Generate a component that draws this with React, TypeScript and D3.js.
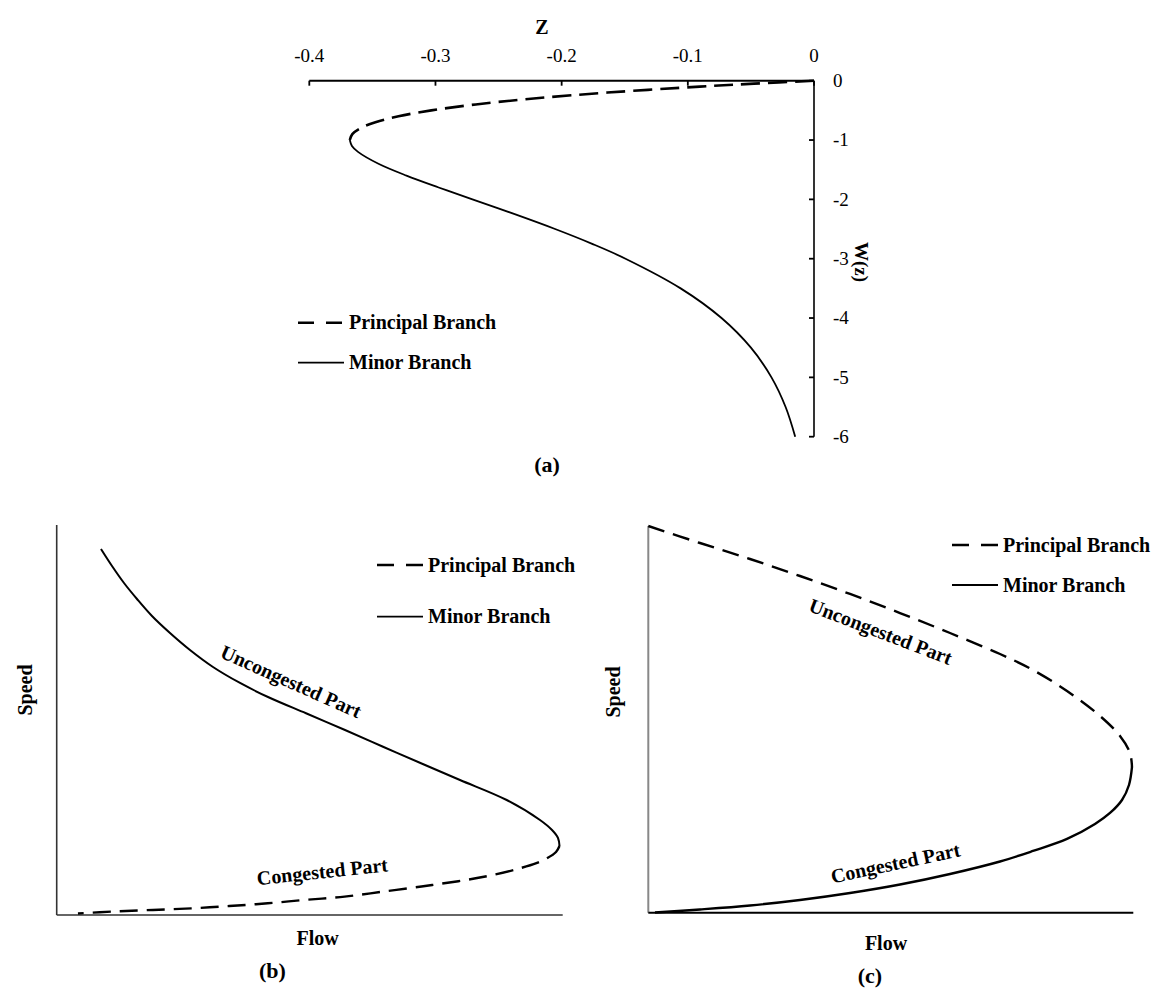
import React from "react";
import * as d3 from "d3";

// ---------- Panel (a): Lambert W ----------
const zTickValues = [-0.4, -0.3, -0.2, -0.1, 0];
const zTickLabels = ["-0.4", "-0.3", "-0.2", "-0.1", "0"];
const wTickValues = [0, -1, -2, -3, -4, -5, -6];
const wTickLabels = ["0", "-1", "-2", "-3", "-4", "-5", "-6"];

const principalW = [0, -0.05, -0.1, -0.2, -0.3, -0.4, -0.5, -0.6, -0.7, -0.8, -0.9, -1.0];
const principalZ = [0, -0.0476, -0.0905, -0.1637, -0.2222, -0.2681, -0.3033, -0.3293, -0.3476, -0.3595, -0.3659, -0.3679];
const minorW = [-1.0, -1.1, -1.2, -1.4, -1.6, -1.8, -2.0, -2.25, -2.5, -2.75, -3.0, -3.5, -4.0, -4.5, -5.0, -5.5, -6.0];
const minorZ = [-0.3679, -0.3662, -0.3614, -0.3452, -0.323, -0.2975, -0.2707, -0.2372, -0.2052, -0.1758, -0.1494, -0.1057, -0.0733, -0.05, -0.0337, -0.0225, -0.0149];

// ---------- Panel (b): flow (x) vs speed (y), normalized ----------
const bMinorFlow = [0.0875, 0.1093, 0.133, 0.1587, 0.1883, 0.2239, 0.2634, 0.3089, 0.3623, 0.4176, 0.4927, 0.5698, 0.6449, 0.72, 0.797, 0.8893, 0.9551, 0.9789, 0.9907, 0.9937];
const bMinorSpeed = [0.9385, 0.8949, 0.8513, 0.8103, 0.7667, 0.7231, 0.6795, 0.6359, 0.5949, 0.559, 0.5172, 0.4744, 0.4315, 0.389, 0.3462, 0.2949, 0.2436, 0.2179, 0.1974, 0.1769];
const bPrincipalFlow = [0.9937, 0.9868, 0.969, 0.948, 0.916, 0.863, 0.81, 0.758, 0.721, 0.645, 0.569, 0.493, 0.417, 0.341, 0.266, 0.19, 0.114, 0.042];
const bPrincipalSpeed = [0.1769, 0.1615, 0.1454, 0.133, 0.12, 0.103, 0.09, 0.08, 0.073, 0.06, 0.047, 0.039, 0.03, 0.023, 0.017, 0.013, 0.009, 0.004];

// ---------- Panel (c) ----------
const cPrincipalFlow = [0, 0.1066, 0.2097, 0.3128, 0.4159, 0.519, 0.6221, 0.7252, 0.7932, 0.8633, 0.9314, 0.9726, 0.9932, 0.9973];
const cPrincipalSpeed = [1, 0.956, 0.9147, 0.8707, 0.8242, 0.775, 0.7233, 0.669, 0.6276, 0.5733, 0.5087, 0.457, 0.413, 0.3768];
const cMinorFlow = [0.9973, 0.9911, 0.9767, 0.952, 0.921, 0.8633, 0.7932, 0.7252, 0.6221, 0.519, 0.4159, 0.3128, 0.2097, 0.1066, 0.0138];
const cMinorSpeed = [0.3768, 0.3302, 0.2915, 0.2579, 0.2295, 0.1908, 0.1596, 0.1324, 0.1001, 0.0729, 0.0509, 0.0328, 0.0186, 0.0083, 0.0005];

const legendLabels = ["Principal Branch", "Minor Branch"];

const FONT = "'Liberation Serif', 'Times New Roman', serif";

type Pt = [number, number];

function mkLine(xs: d3.ScaleLinear<number, number>, ys: d3.ScaleLinear<number, number>) {
  return d3
    .line<Pt>()
    .x((d) => xs(d[0]))
    .y((d) => ys(d[1]))
    .curve(d3.curveCatmullRom.alpha(0.5));
}

const zip = (a: number[], b: number[]): Pt[] => a.map((v, i) => [v, b[i]] as Pt);

function Legend({ x, y, gap, dash }: { x: number; y: number; gap: number; dash: string }) {
  return (
    <g>
      <line x1={x} x2={x + 46} y1={y} y2={y} stroke="#000" strokeWidth={2.6} strokeDasharray={dash} />
      <text x={x + 51} y={y + 6.6} fontFamily={FONT} fontWeight="bold" fontSize={20}>
        {legendLabels[0]}
      </text>
      <line x1={x} x2={x + 46} y1={y + gap} y2={y + gap} stroke="#000" strokeWidth={1.8} />
      <text x={x + 51} y={y + gap + 6.6} fontFamily={FONT} fontWeight="bold" fontSize={20}>
        {legendLabels[1]}
      </text>
    </g>
  );
}

function RotText({ cx, cy, angle, children, size = 20 }: any) {
  return (
    <text
      transform={`translate(${cx},${cy}) rotate(${angle})`}
      y={size * 0.33}
      textAnchor="middle"
      fontFamily={FONT}
      fontWeight="bold"
      fontSize={size}
    >
      {children}
    </text>
  );
}

export default function App() {
  // Panel (a)
  const ax = d3.scaleLinear().domain([-0.4, 0]).range([309.3, 814]);
  const ay = d3.scaleLinear().domain([0, -6]).range([80.7, 436.7]);
  const aLine = mkLine(ax, ay);

  // Panel (b)
  const bx = d3.scaleLinear().domain([0, 1]).range([56.7, 562.7]);
  const by = d3.scaleLinear().domain([0, 1]).range([915, 525]);
  const bLine = mkLine(bx, by);

  // Panel (c)
  const cx = d3.scaleLinear().domain([0, 1]).range([648.3, 1133.3]);
  const cy = d3.scaleLinear().domain([0, 1]).range([912.7, 526]);
  const cLine = mkLine(cx, cy);

  return (
    <svg
      width={1152}
      height={988}
      style={{ position: "absolute", left: 0, top: 0, background: "#fff" }}
    >
      <rect x={0} y={0} width={1152} height={988} fill="#fff" />

      {/* ===== Panel (a) ===== */}
      <line x1={ax(-0.4)} x2={ax(0)} y1={ay(0)} y2={ay(0)} stroke="#000" strokeWidth={2} />
      <line x1={ax(0)} x2={ax(0)} y1={ay(0)} y2={ay(-6)} stroke="#000" strokeWidth={1.6} />
      {zTickValues.map((v, i) => (
        <g key={"zt" + i}>
          <line x1={ax(v)} x2={ax(v)} y1={ay(0)} y2={ay(0) + 5} stroke="#000" strokeWidth={1.8} />
          <text x={ax(v)} y={61.5} textAnchor="middle" fontFamily={FONT} fontSize={19}>
            {zTickLabels[i]}
          </text>
        </g>
      ))}
      {wTickValues.map((v, i) => (
        <g key={"wt" + i}>
          <line x1={ax(0) - 5} x2={ax(0)} y1={ay(v)} y2={ay(v)} stroke="#000" strokeWidth={1.8} />
          <text x={833} y={ay(v) + 6.3} textAnchor="start" fontFamily={FONT} fontSize={19}>
            {wTickLabels[i]}
          </text>
        </g>
      ))}
      <text x={542} y={33.6} textAnchor="middle" fontFamily={FONT} fontWeight="bold" fontSize={20}>
        Z
      </text>
      <text
        transform={`translate(854.5,262) rotate(90)`}
        textAnchor="middle"
        fontFamily={FONT}
        fontWeight="bold"
        fontSize={19}
      >
        W(z)
      </text>
      <path d={aLine(zip(principalZ, principalW)) || ""} fill="none" stroke="#000" strokeWidth={2.6} strokeDasharray="19,8" />
      <path d={aLine(zip(minorZ, minorW)) || ""} fill="none" stroke="#000" strokeWidth={1.8} />
      <Legend x={298} y={322.7} gap={40} dash="16,12" />
      <text x={547} y={472} textAnchor="middle" fontFamily={FONT} fontWeight="bold" fontSize={22}>
        (a)
      </text>

      {/* ===== Panel (b) ===== */}
      <line x1={bx(0)} x2={bx(0)} y1={by(0)} y2={by(1)} stroke="#333" strokeWidth={1.6} />
      <line x1={bx(0)} x2={bx(1)} y1={by(0)} y2={by(0)} stroke="#333" strokeWidth={1.6} />
      <path d={bLine(zip(bMinorFlow, bMinorSpeed)) || ""} fill="none" stroke="#000" strokeWidth={2} />
      <path d={bLine(zip(bPrincipalFlow, bPrincipalSpeed)) || ""} fill="none" stroke="#000" strokeWidth={2.4} strokeDasharray="18,9" />
      <Legend x={377} y={565} gap={51.7} dash="17,12" />
      <RotText cx={25} cy={690} angle={-90}>Speed</RotText>
      <text x={317.7} y={945} textAnchor="middle" fontFamily={FONT} fontWeight="bold" fontSize={20}>
        Flow
      </text>
      <text x={272.4} y={978} textAnchor="middle" fontFamily={FONT} fontWeight="bold" fontSize={22}>
        (b)
      </text>
      <RotText cx={290.9} cy={681.7} angle={24}>Uncongested Part</RotText>
      <RotText cx={322.3} cy={871.7} angle={-6}>Congested Part</RotText>

      {/* ===== Panel (c) ===== */}
      <line x1={cx(0)} x2={cx(0)} y1={cy(0)} y2={cy(1)} stroke="#888" strokeWidth={2} />
      <line x1={cx(0)} x2={cx(1)} y1={cy(0)} y2={cy(0)} stroke="#000" strokeWidth={2} />
      <path d={cLine(zip(cPrincipalFlow, cPrincipalSpeed)) || ""} fill="none" stroke="#000" strokeWidth={2.4} strokeDasharray="17,9" />
      <path d={cLine(zip(cMinorFlow, cMinorSpeed)) || ""} fill="none" stroke="#000" strokeWidth={2.4} />
      <Legend x={952} y={545} gap={40} dash="17,12" />
      <RotText cx={613} cy={692} angle={-90}>Speed</RotText>
      <text x={886} y={950} textAnchor="middle" fontFamily={FONT} fontWeight="bold" fontSize={20}>
        Flow
      </text>
      <text x={870} y={983} textAnchor="middle" fontFamily={FONT} fontWeight="bold" fontSize={22}>
        (c)
      </text>
      <RotText cx={880.6} cy={631.7} angle={21}>Uncongested Part</RotText>
      <RotText cx={895.4} cy={863.3} angle={-12}>Congested Part</RotText>
    </svg>
  );
}
